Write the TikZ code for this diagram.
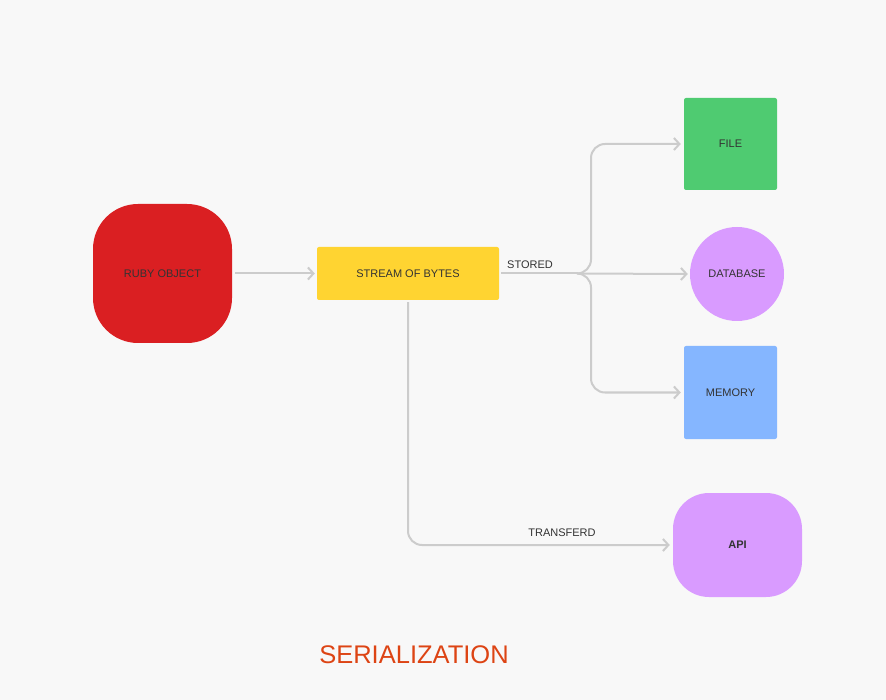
\documentclass[tikz,border=0pt]{standalone}
\usepackage{fontspec}
\setmainfont{Liberation Sans}
\usetikzlibrary{arrows.meta}
\definecolor{bg}{HTML}{F8F8F8}
\definecolor{linec}{HTML}{CCCCCC}
\definecolor{txt}{HTML}{333333}
\definecolor{rubyred}{HTML}{DA1F22}
\definecolor{streamy}{HTML}{FFD431}
\definecolor{filegreen}{HTML}{4FCB71}
\definecolor{violetc}{HTML}{D99BFF}
\definecolor{memblue}{HTML}{85B6FF}
\definecolor{titlec}{HTML}{DD4414}
\tikzset{
  x=1pt, y=-1pt,
  lbl/.style={text=txt, font=\fontsize{11}{13}\selectfont},
  conn/.style={draw=linec, line width=2pt, -{Straight Barb[length=5.5pt, width=12pt, line width=2pt]}},
}
\begin{document}
\begin{tikzpicture}
\fill[bg] (0,0) rectangle (886,700);
\useasboundingbox (0,0) rectangle (886,700);

\node[lbl, fill=rubyred, rounded corners=45pt, minimum width=139pt, minimum height=139pt] (ruby) at (162.5,273.5) {RUBY OBJECT};
\node[lbl, fill=streamy, rounded corners=2pt, minimum width=182pt, minimum height=53pt] (stream) at (408,273.5) {STREAM OF BYTES};
\node[lbl, fill=filegreen, rounded corners=2pt, minimum width=93pt, minimum height=92pt] (file) at (730.5,144) {FILE};
\node[lbl, fill=violetc, circle, minimum size=94pt, inner sep=0pt] (db) at (737,274) {DATABASE};
\node[lbl, fill=memblue, rounded corners=2pt, minimum width=93pt, minimum height=93pt] (mem) at (730.5,392.5) {MEMORY};
\node[lbl, fill=violetc, rounded corners=36pt, minimum width=129pt, minimum height=104pt, font=\fontsize{11}{13}\selectfont\bfseries] (api) at (737.5,545) {API};

\coordinate (split) at (578,273.5);
\coordinate (down) at (408,545);

\draw[conn] ([xshift=3pt]ruby.east) -- ([xshift=-2pt]stream.west);
\draw[draw=linec, line width=2pt] ([xshift=2pt]stream.east) -- (split);
\draw[conn] (split) -- ([xshift=-2pt]db.west);
\draw[conn, rounded corners=14pt] (split) -| (591,144) -- ([xshift=-3pt]file.west);
\draw[conn, rounded corners=14pt] (split) -| (591,392.5) -- ([xshift=-3pt]mem.west);
\draw[conn, rounded corners=14pt] ([yshift=-2pt]stream.south) -- (down) -- ([xshift=-3pt]api.west);

\node[lbl, anchor=south] (stored) at (530,272) {STORED};
\node[lbl, anchor=south] (transferd) at (562,540) {TRANSFERD};
\node[text=titlec, font=\fontsize{25.5}{29}\selectfont] (title) at (414,655) {SERIALIZATION};
\end{tikzpicture}
\end{document}
